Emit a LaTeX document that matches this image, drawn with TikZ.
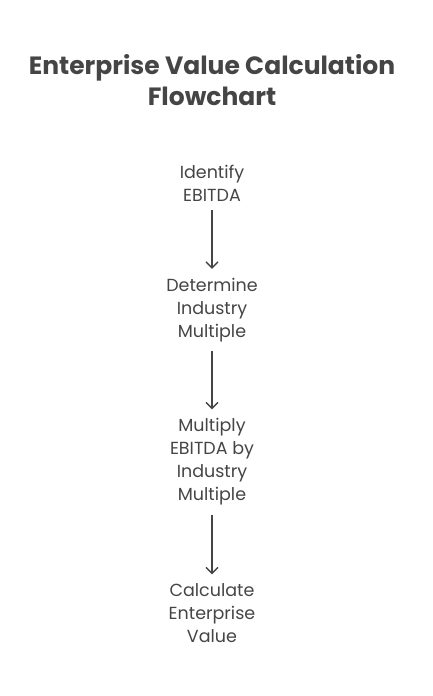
\documentclass[tikz,border=0pt]{standalone}
\usepackage{fontspec}
\setmainfont{Poppins}
\usetikzlibrary{arrows.meta}
\definecolor{inkgray}{HTML}{454545}
\tikzset{>={Straight Barb[length=6pt,width=12pt]}}
\tikzset{flowstep/.style={align=center, text=inkgray, inner sep=9pt,
    font=\fontsize{17.5}{23}\selectfont}}
\tikzset{flowarrow/.style={->, draw=inkgray, line width=1.4pt}}

\begin{document}
\begin{tikzpicture}[x=1pt, y=-1pt]
    \useasboundingbox (0,0) rectangle (432,696);
    \node (title) at (212,80) [align=center, text=inkgray,
        font=\fontsize{25}{31}\bfseries\selectfont]
        {Enterprise Value Calculation\\Flowchart};
    \node (ident) at (212,183) [flowstep] {Identify\\EBITDA};
    \node (indus) at (212,310) [flowstep] {Determine\\Industry\\Multiple};
    \node (multi) at (212,462) [flowstep] {Multiply\\EBITDA by\\Industry\\Multiple};
    \node (value) at (212,613) [flowstep] {Calculate\\Enterprise\\Value};
    \draw [flowarrow] (ident) -- (indus);
    \draw [flowarrow] (indus) -- (multi);
    \draw [flowarrow] (multi) -- (value);
\end{tikzpicture}
\end{document}
